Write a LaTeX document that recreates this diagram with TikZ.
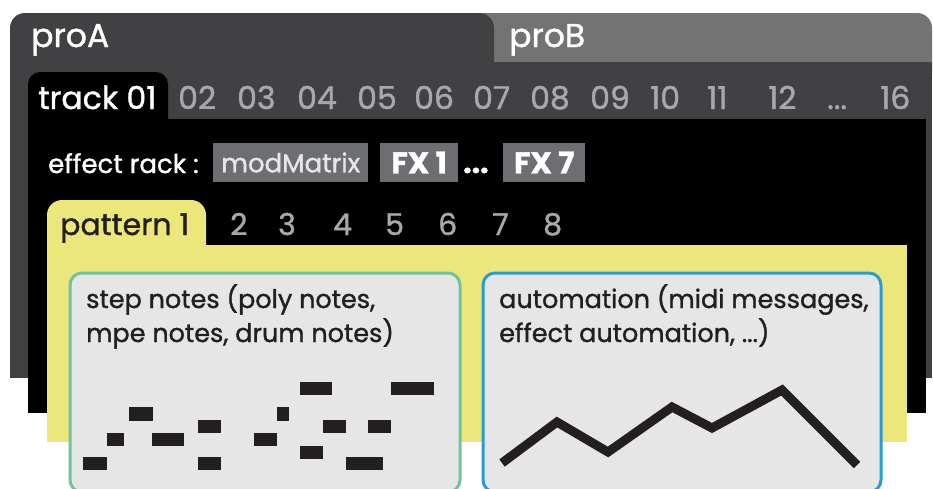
\documentclass[tikz,border=0pt]{standalone}
\usepackage{fontspec}
\setmainfont{Poppins}[FakeBold=1.2]
\definecolor{framegray}{HTML}{414042}
\definecolor{probgray}{HTML}{737373}
\definecolor{numgray}{HTML}{A6A8AB}
\definecolor{taggray}{HTML}{6D6E71}
\definecolor{padyellow}{HTML}{ECE77B}
\definecolor{boxfill}{HTML}{E6E6E7}
\definecolor{mintline}{HTML}{6FC49C}
\definecolor{blueline}{HTML}{2B9BD3}
\definecolor{ink}{HTML}{231F20}
\tikzset{
  lbl/.style={anchor=base west, inner sep=0pt},
  tabfont/.style={font=\fontsize{33}{38}\selectfont},
  trackfont/.style={font=\fontsize{31.5}{36}\selectfont},
  rackfont/.style={font=\fontsize{26}{30}\selectfont},
  rackbold/.style={font=\fontsize{30}{32}\selectfont\bfseries},
  patfont/.style={font=\fontsize{30}{34}\selectfont},
  boxfont/.style={font=\fontsize{25.5}{34}\selectfont},
  tagbox/.style={fill=taggray, inner sep=0pt, minimum height=39pt, anchor=west},
  lanebox/.style={fill=boxfill, line width=3pt, rounded corners=12pt},
  note/.style={fill=ink},
}
\begin{document}
\begin{tikzpicture}[x=1pt,y=-1pt]
\useasboundingbox (0,0) rectangle (933,488);
\clip (0,0) rectangle (933,488);

% project tabs
\fill[probgray, rounded corners=15pt] (470,13) rectangle (932,90);
\fill[framegray, rounded corners=15pt] (10,13) rectangle (494,100);
\fill[framegray] (10,62) rectangle (932,378);
\node[lbl, tabfont, white] (proA) at (31,47) {proA};
\node[lbl, tabfont, white] (proB) at (509,47) {proB};

% track panel
\fill[black, rounded corners=12pt] (28,72) rectangle (168,140);
\fill[black] (28,119) rectangle (926,413);
\node[lbl, trackfont, white] (trk) at (38,109) {track 01};
\foreach \n/\x in {02/178,03/237,04/297,05/357,06/414,07/473,08/530,09/590,10/650,11/707,12/768,16/880}
  \node[lbl, trackfont, numgray] (trk\x) at (\x,109) {\n};
\node[lbl, trackfont, numgray] (trkdots) at (827,109) {...};

% effect rack
\node[lbl, rackfont, white] (rack) at (48,173) {effect rack :};
\node[tagbox, minimum width=155pt, rackfont, text=boxfill] (mm) at (213,162.5) {modMatrix};
\node[tagbox, minimum width=78pt, rackbold, text=white] (fx1) at (380,162.5) {FX 1};
\node[lbl, rackbold, white] (fxdots) at (463,173) {...};
\node[tagbox, minimum width=82pt, rackbold, text=white] (fx7) at (503,162.5) {FX 7};

% pattern pages
\fill[padyellow, rounded corners=15pt] (47,200) rectangle (206,270);
\fill[padyellow] (47,245) rectangle (907,442);
\node[lbl, patfont, ink] (pat) at (60,235) {pattern 1};
\foreach \n/\x in {2/230,3/278,4/333,5/385,6/438,7/492,8/543}
  \node[lbl, patfont, numgray] (pat\n) at (\x,235) {\n};

% step notes lane
\draw[lanebox, draw=mintline] (70,273) rectangle (460,492);
\node[lbl, boxfont, ink] (stepA) at (86,308) {step notes (poly notes,};
\node[lbl, boxfont, ink] (stepB) at (86,342) {mpe notes, drum notes)};
\foreach \xa/\ya/\xb/\yb in {
  83/457/107/470, 107/433/124/446, 129/407/153/421, 152/433/184/446,
  198/420/221/433, 198/457/221/470, 254/433/277/446, 277/407/289/421,
  300/382/332/395, 300/446/323/459, 323/420/346/433, 346/457/383/470,
  368/420/391/433, 391/382/434/395}
  \fill[note] (\xa,\ya) rectangle (\xb,\yb);

% automation lane
\draw[lanebox, draw=blueline] (483,273) rectangle (881,492);
\node[lbl, boxfont, ink] (autoA) at (499,308) {automation (midi messages,};
\node[lbl, boxfont, ink] (autoB) at (499,342) {effect automation, ...)};
\draw[ink, line width=9pt, miter limit=10] (502,463) -- (557,422) -- (608,452) -- (672,407) -- (712,428) -- (782,390) -- (857,465);
\end{tikzpicture}
\end{document}
